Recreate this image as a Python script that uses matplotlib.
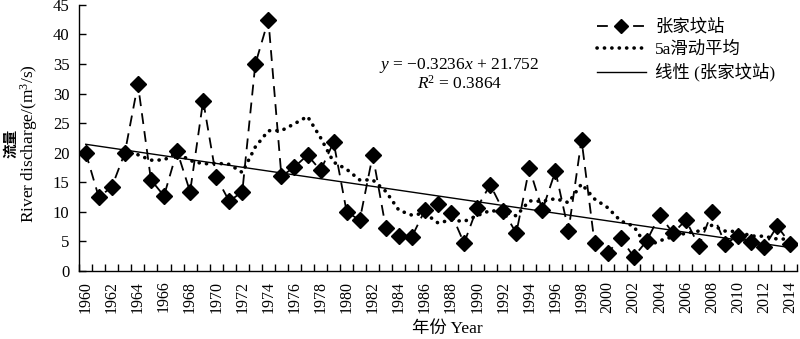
import matplotlib
matplotlib.use("Agg")
import matplotlib.pyplot as plt
import numpy as np
import pandas as pd

plt.rcParams['font.family'] = ['Liberation Serif', 'Noto Sans CJK SC']
plt.rcParams['mathtext.fontset'] = 'custom'
plt.rcParams['mathtext.rm'] = 'Liberation Serif'
plt.rcParams['mathtext.it'] = 'Liberation Serif:italic'

# annual discharge at Zhangjiafen station
years = list(range(1960, 2015))
discharge = [20.0, 12.5, 14.2, 20.0, 31.6, 15.4, 12.7, 20.3, 13.4, 28.8,
             15.9, 11.8, 13.4, 35.0, 42.5, 16.0, 17.6, 19.6, 17.0, 21.8,
             10.0, 8.6, 19.6, 7.3, 5.9, 5.8, 10.3, 11.3, 9.8, 4.7,
             10.7, 14.6, 10.2, 6.4, 17.4, 10.3, 16.9, 6.8, 22.2, 4.7,
             3.0, 5.6, 2.4, 5.1, 9.5, 6.4, 8.6, 4.2, 10.0, 4.6,
             5.9, 4.9, 4.0, 7.6, 4.6]
# trend line coefficients as printed on the chart
slope = -0.3236
intercept = 21.752
tick_labels = [str(y) for y in years[::2]]

x = np.arange(len(years))
ma5 = pd.Series(discharge).rolling(5).mean()
trend = slope * (x + 1) + intercept

fig = plt.figure(figsize=(8, 3.39), dpi=100)
ax = fig.add_axes([0.099, 0.2006, 0.897, 0.785])

ax.plot(x, discharge, color='black', lw=1.3, dashes=(6, 4),
        marker='D', ms=8.5, label='张家坟站')
ax.plot(x, ma5, color='black', lw=2.6, linestyle=(0, (0.05, 2.0)),
        dash_capstyle='round', label='5a滑动平均')
ax.plot(x, trend, color='black', lw=1.0, label='线性 (张家坟站)')

ax.set_xlim(-0.5, len(years) - 0.5)
ax.set_ylim(0, 45)
ax.set_yticks(range(0, 50, 5))
ax.set_xticks(x[::2])
ax.set_xticklabels(tick_labels, rotation=90, fontsize=11.5)
ax.set_xticks(np.arange(-0.5, len(years), 1), minor=True)
ax.tick_params(axis='x', which='major', length=0, pad=7)
ax.tick_params(axis='x', which='minor', direction='in', length=5, width=1)
ax.tick_params(axis='y', direction='in', length=5, width=1, labelsize=12, pad=7)
for s in ['top', 'right']:
    ax.spines[s].set_visible(False)
for s in ['left', 'bottom']:
    ax.spines[s].set_linewidth(1.0)

ax.text(0.53, 0.774, r'$y$ = −0.3236$x$ + 21.752', transform=ax.transAxes,
        ha='center', va='center', fontsize=12.5)
ax.text(0.53, 0.704, r'$R$$^2$ = 0.3864', transform=ax.transAxes,
        ha='center', va='center', fontsize=12.5)

ax.legend(loc='upper left', bbox_to_anchor=(597 / 800, 0.943),
          bbox_transform=fig.transFigure, frameon=False, borderpad=0,
          borderaxespad=0, fontsize=12.5, numpoints=1, handlelength=2.8,
          handletextpad=0.55, labelspacing=0.3, markerscale=0.8)

fig.text(0.014, 0.576, '流量', rotation=90, ha='center', va='center',
         fontsize=10.5, fontweight='bold')
fig.text(0.036, 0.576, 'River discharge/(m$^3$/s)', rotation=90,
         ha='center', va='center', fontsize=12.5)
fig.text(0.559, 0.03, '年份 Year', ha='center', va='center', fontsize=12.5)

fig.savefig('out.png', dpi=100)
